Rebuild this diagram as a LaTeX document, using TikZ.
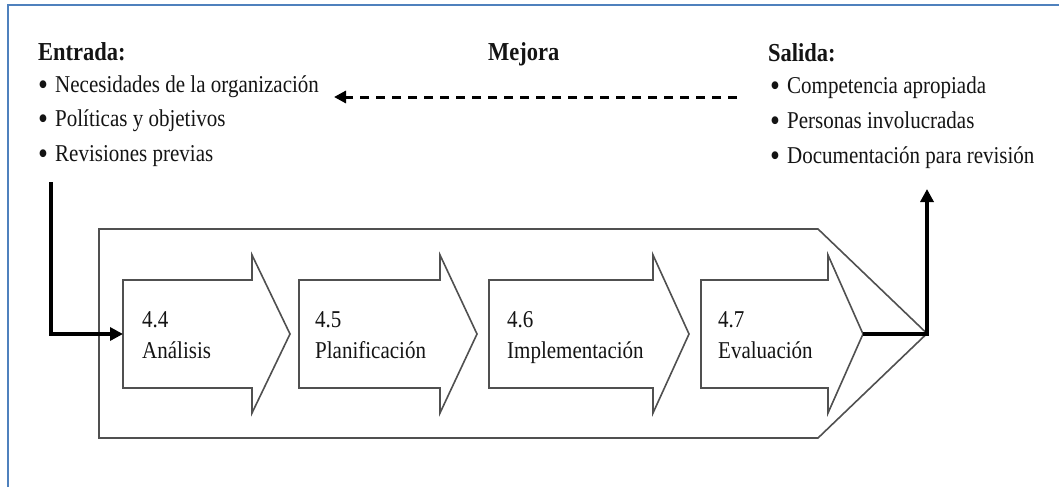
\documentclass[tikz,border=0pt]{standalone}
\usepackage{fontspec}
\setmainfont{Liberation Serif}
\usetikzlibrary{arrows.meta}
\definecolor{frameblue}{RGB}{79,129,189}
\definecolor{boxgray}{RGB}{80,80,80}
\definecolor{ink}{RGB}{20,20,20}
% text is set slightly taller than wide
\newcommand{\tallt}[1]{\scalebox{1}[1.15]{#1}}
\newcommand{\bitem}[1]{\tallt{\makebox[17pt][l]{\raisebox{-3pt}{\scalebox{1.35}{\textbullet}}}#1}}
% process arrow: name, left x, head base x, tip x
\newcommand{\procarrow}[4]{%
  \draw[procarrow] (#2,280) -- (#3,280) -- (#3,255) -- (#4,334) -- (#3,413) -- (#3,388) -- (#2,388) -- cycle;
  \coordinate (#1-west) at (#2,334);
  \coordinate (#1-tip) at (#4,334);}
\begin{document}
\begin{tikzpicture}[x=1pt,y=-1pt,
  txt/.style={anchor=base west, inner sep=0pt, font=\fontsize{21}{25}\selectfont, text=ink},
  heading/.style={anchor=base west, inner sep=0pt, font=\fontsize{22.5}{27}\selectfont\bfseries, text=ink},
  procarrow/.style={draw=boxgray, line width=1.6pt, fill=white, line join=miter},
  flow/.style={line width=3.8pt, draw=black, -{Triangle[length=13pt,width=13pt]}},
  feedback/.style={line width=3pt, draw=black, dash pattern=on 9pt off 7pt, -{Triangle[length=12pt,width=12pt]}}]
\useasboundingbox (0,0) rectangle (1059,487);
\fill[white] (0,0) rectangle (1059,487);

% frame lines
\draw[frameblue, line width=2pt] (8,487) -- (8,5.5) -- (1059,5.5);

% input block
\node[heading] (entrada) at (38,60) {\tallt{Entrada:}};
\node[txt] (in1) at (38,92) {\bitem{Necesidades de la organización}};
\node[txt] (in2) at (38,126) {\bitem{Políticas y objetivos}};
\node[txt] (in3) at (38,161) {\bitem{Revisiones previas}};

% output block
\node[heading] (salida) at (768,61) {\tallt{Salida:}};
\node[txt] (out1) at (770,93) {\bitem{Competencia apropiada}};
\node[txt] (out2) at (770,128) {\bitem{Personas involucradas}};
\node[txt] (out3) at (770,163) {\bitem{Documentación para revisión}};

% improvement loop
\node[heading] (mejora) at (488,60) {\tallt{Mejora}};
\coordinate (fbstart) at (737,97);
\coordinate (fbend) at (334,97);
\draw[feedback] (fbstart) -- (fbend);

% enclosing process shape
\draw[procarrow] (99,229) -- (818,229) -- (927,333.5) -- (818,438) -- (99,438) -- cycle;

% process steps
\procarrow{a1}{123}{252}{290}
\procarrow{a2}{299}{440}{477}
\procarrow{a3}{489}{653}{689}
\procarrow{a4}{701}{828}{863}

\node[txt] (n1) at (142,327) {\tallt{4.4}};
\node[txt] (l1) at (142,358) {\tallt{Análisis}};
\node[txt] (n2) at (315,327) {\tallt{4.5}};
\node[txt] (l2) at (315,358) {\tallt{Planificación}};
\node[txt] (n3) at (507,327) {\tallt{4.6}};
\node[txt] (l3) at (507,358) {\tallt{Implementación}};
\node[txt] (n4) at (718,327) {\tallt{4.7}};
\node[txt] (l4) at (718,358) {\tallt{Evaluación}};

% input and output flow
\coordinate (instart) at (51,182);
\coordinate (outend) at (927,189);
\draw[flow] (instart) |- (a1-west);
\draw[flow] (a4-tip) -| (outend);
\end{tikzpicture}
\end{document}
